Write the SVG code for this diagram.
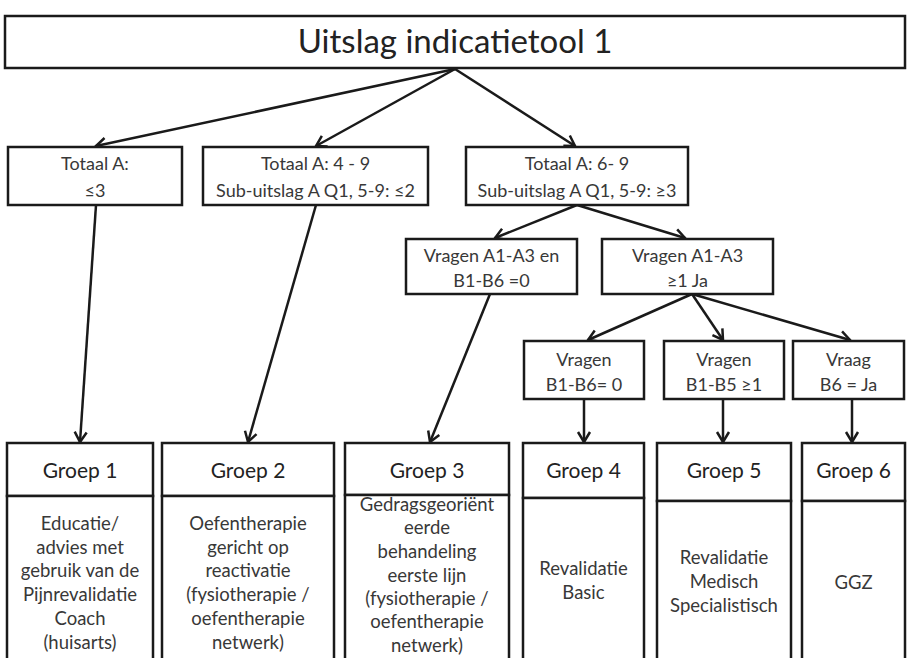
<svg xmlns="http://www.w3.org/2000/svg" width="908" height="658" viewBox="0 0 908 658">
<style>
.box{fill:#fff;stroke:#1a1a1a;stroke-width:2.5}
.t{font-family:Lato,"Liberation Sans",sans-serif;font-size:18px;fill:#383838;text-anchor:middle}
.b{font-family:Lato,"Liberation Sans",sans-serif;font-size:18.5px;fill:#383838;text-anchor:middle}
.h{font-family:Lato,"Liberation Sans",sans-serif;font-size:21px;fill:#222;text-anchor:middle}
.ttl{font-family:Lato,"Liberation Sans",sans-serif;font-size:33px;fill:#222;text-anchor:middle}
.c{stroke:#1a1a1a;stroke-width:2.5;fill:none;marker-end:url(#ah)}
</style>
<defs>
<marker id="ah" markerUnits="userSpaceOnUse" markerWidth="16" markerHeight="16" viewBox="0 0 16 16" refX="13" refY="8" orient="auto">
<path d="M3,2 L13,8 L3,14" fill="none" stroke="#1a1a1a" stroke-width="2.5"/>
</marker>
</defs>
<rect width="908" height="658" fill="#fff"/>
<g id="connectors">
<line class="c" x1="455" y1="69" x2="96" y2="146"/>
<line class="c" x1="455" y1="69" x2="316" y2="146"/>
<line class="c" x1="455" y1="69" x2="575" y2="146"/>
<line class="c" x1="96" y1="205" x2="80" y2="442"/>
<line class="c" x1="316" y1="205" x2="248" y2="442"/>
<line class="c" x1="577" y1="205" x2="495" y2="238"/>
<line class="c" x1="577" y1="205" x2="685" y2="238"/>
<line class="c" x1="490" y1="294" x2="430" y2="442"/>
<line class="c" x1="692" y1="294" x2="588" y2="340"/>
<line class="c" x1="692" y1="294" x2="723" y2="340"/>
<line class="c" x1="692" y1="294" x2="850" y2="340"/>
<line class="c" x1="584" y1="399" x2="584" y2="442"/>
<line class="c" x1="723" y1="399" x2="723" y2="442"/>
<line class="c" x1="852" y1="399" x2="852" y2="442"/>
</g>
<g id="title">
<rect class="box" x="5" y="16" width="900" height="52"/>
<text class="ttl" x="455" y="53">Uitslag indicatietool 1</text>
</g>
<g id="totaal1">
<rect class="box" x="8" y="147" width="174" height="58"/>
<text class="t" x="95" y="169.5">Totaal A:</text>
<text class="t" x="95" y="196.5">≤3</text>
</g>
<g id="totaal2">
<rect class="box" x="203" y="147" width="225" height="58"/>
<text class="t" x="315.5" y="169.5">Totaal A: 4 - 9</text>
<text class="t" x="315.5" y="196.5">Sub-uitslag A Q1, 5-9: ≤2</text>
</g>
<g id="totaal3">
<rect class="box" x="466" y="147" width="222" height="58"/>
<text class="t" x="577" y="169.5">Totaal A: 6- 9</text>
<text class="t" x="577" y="196.5">Sub-uitslag A Q1, 5-9: ≥3</text>
</g>
<g id="vragen1">
<rect class="box" x="406" y="239" width="171" height="55"/>
<text class="t" x="491.5" y="261.5">Vragen A1-A3 en</text>
<text class="t" x="491.5" y="286.5">B1-B6 =0</text>
</g>
<g id="vragen2">
<rect class="box" x="602" y="239" width="171" height="55"/>
<text class="t" x="687.5" y="261.5">Vragen A1-A3</text>
<text class="t" x="687.5" y="286.5">≥1 Ja</text>
</g>
<g id="b1">
<rect class="box" x="524" y="341" width="120" height="58"/>
<text class="t" x="584" y="365.5">Vragen</text>
<text class="t" x="584" y="390.5">B1-B6= 0</text>
</g>
<g id="b2">
<rect class="box" x="664" y="341" width="120" height="58"/>
<text class="t" x="724" y="365.5">Vragen</text>
<text class="t" x="724" y="390.5">B1-B5 ≥1</text>
</g>
<g id="b3">
<rect class="box" x="793" y="341" width="111" height="58"/>
<text class="t" x="848.5" y="365.5">Vraag</text>
<text class="t" x="848.5" y="390.5">B6 = Ja</text>
</g>
<g id="groep1">
<rect class="box" x="7" y="443" width="146" height="53"/>
<rect class="box" x="7" y="496" width="146" height="180"/>
<text class="h" x="80" y="477.5">Groep 1</text>
<text class="b" x="80" y="529.5">Educatie/</text>
<text class="b" x="80" y="553.5">advies met</text>
<text class="b" x="80" y="576.5">gebruik van de</text>
<text class="b" x="80" y="600.5">Pijnrevalidatie</text>
<text class="b" x="80" y="624.5">Coach</text>
<text class="b" x="80" y="648.5">(huisarts)</text>
</g>
<g id="groep2">
<rect class="box" x="162" y="443" width="172" height="53"/>
<rect class="box" x="162" y="496" width="172" height="180"/>
<text class="h" x="248" y="477.5">Groep 2</text>
<text class="b" x="248" y="529.5">Oefentherapie</text>
<text class="b" x="248" y="553.5">gericht op</text>
<text class="b" x="248" y="576.5">reactivatie</text>
<text class="b" x="248" y="600.5">(fysiotherapie /</text>
<text class="b" x="248" y="624.5">oefentherapie</text>
<text class="b" x="248" y="648.5">netwerk)</text>
</g>
<g id="groep3">
<rect class="box" x="345" y="443" width="164" height="52"/>
<rect class="box" x="345" y="495" width="164" height="180"/>
<text class="h" x="427" y="477.5">Groep 3</text>
<text class="b" x="427" y="510.5">Gedragsgeoriënt</text>
<text class="b" x="427" y="533.5">eerde</text>
<text class="b" x="427" y="557.5">behandeling</text>
<text class="b" x="427" y="581.5">eerste lijn</text>
<text class="b" x="427" y="604.5">(fysiotherapie /</text>
<text class="b" x="427" y="627.5">oefentherapie</text>
<text class="b" x="427" y="651.5">netwerk)</text>
</g>
<g id="groep4">
<rect class="box" x="523" y="443" width="121" height="55"/>
<rect class="box" x="523" y="498" width="121" height="180"/>
<text class="h" x="583.5" y="477.5">Groep 4</text>
<text class="b" x="583.5" y="574.5">Revalidatie</text>
<text class="b" x="583.5" y="598.5">Basic</text>
</g>
<g id="groep5">
<rect class="box" x="657" y="443" width="134" height="58"/>
<rect class="box" x="657" y="501" width="134" height="180"/>
<text class="h" x="724" y="477.5">Groep 5</text>
<text class="b" x="724" y="563.5">Revalidatie</text>
<text class="b" x="724" y="587.5">Medisch</text>
<text class="b" x="724" y="611.5">Specialistisch</text>
</g>
<g id="groep6">
<rect class="box" x="802" y="443" width="103" height="58"/>
<rect class="box" x="802" y="501" width="103" height="180"/>
<text class="h" x="853.5" y="477.5">Groep 6</text>
<text class="b" x="853.5" y="588.5">GGZ</text>
</g>
</svg>
